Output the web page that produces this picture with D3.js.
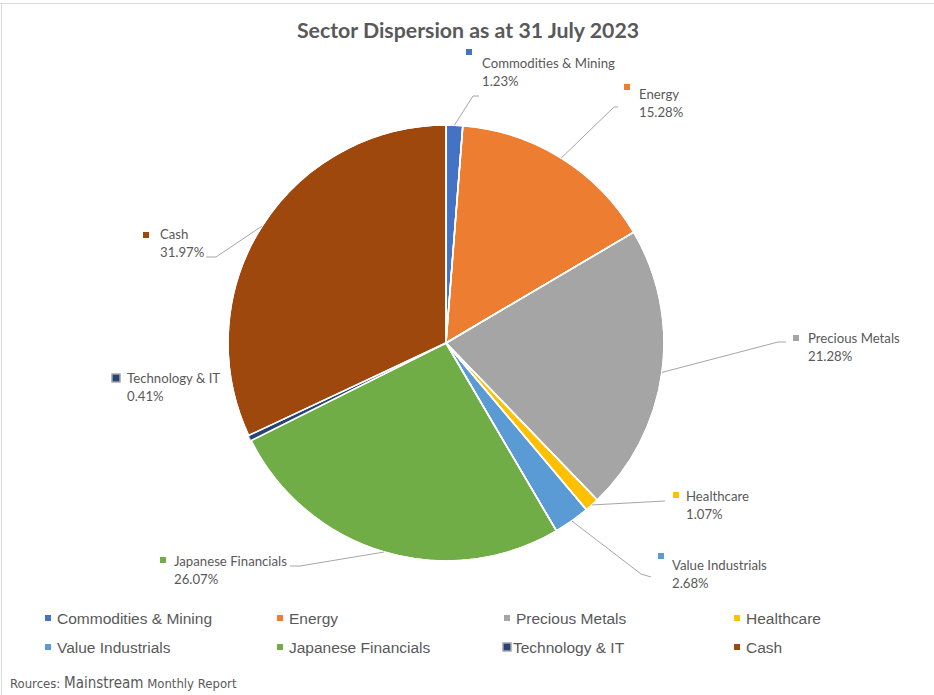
<!DOCTYPE html>
<html><head><meta charset="utf-8">
<script src="https://cdn.jsdelivr.net/npm/d3@7"></script>
<style>body{margin:0;background:#fff}svg{display:block}</style>
</head><body>
<script>
const categories = ["Commodities & Mining","Energy","Precious Metals","Healthcare","Value Industrials","Japanese Financials","Technology & IT","Cash"];
const values = [1.23,15.28,21.28,1.07,2.68,26.07,0.41,31.97];
const colors = ["#4472C4","#ED7D31","#A5A5A5","#FFC000","#5B9BD5","#70AD47","#264478","#9E480E"];
const title = "Sector Dispersion as at 31 July 2023";

const W=934,H=695, cx=446, cy=343, R=218;
const svg=d3.select("body").append("svg").attr("width",W).attr("height",H);
svg.append("rect").attr("width",W).attr("height",H).attr("fill","#fff");
svg.append("line").attr("x1",0).attr("x2",W).attr("y1",3.5).attr("y2",3.5).attr("stroke","#d9d9d9");
svg.append("line").attr("x1",1.5).attr("x2",1.5).attr("y1",3).attr("y2",H).attr("stroke","#d9d9d9");

svg.append("text").attr("x",468).attr("y",38).attr("text-anchor","middle")
  .attr("font-family","Lato, 'Open Sans', sans-serif").attr("font-weight","bold")
  .attr("font-size",21.3).attr("fill","#595959").text(title);

const data=categories.map((c,i)=>({name:c,value:values[i],color:colors[i]}));
const pie=d3.pie().value(d=>d.value).sort(null);
const arcs=pie(data);
const arc=d3.arc().innerRadius(0).outerRadius(R);
const g=svg.append("g").attr("transform",`translate(${cx},${cy})`);
g.selectAll("path").data(arcs).join("path").attr("d",arc)
  .attr("fill",d=>d.data.color)
  .attr("stroke",d=>d.data.name==="Technology & IT"?"#a5a5a5":"#fff")
  .attr("stroke-width",d=>d.data.name==="Technology & IT"?1:1.5);
g.selectAll("path.sep").data(arcs.filter(d=>d.data.name!=="Technology & IT")).join("path")
  .attr("d",arc).attr("fill","none").attr("stroke","#fff").attr("stroke-width",1.5);

const layout=[
  {mx:469,ty:68,tx:482,my:52,elbow:[[473,96],[479,96]]},
  {mx:627,ty:99,tx:639,my:87,elbow:[[614,107],[618,107]]},
  {mx:796,ty:343,tx:808,my:338,elbow:[[778,342],[786,342]]},
  {mx:676,ty:501,tx:686,my:495,elbow:[[665,501]]},
  {mx:661,ty:570,tx:672,my:556,elbow:[[641,574],[651,577]]},
  {mx:163,ty:566,tx:174,my:560,elbow:[[300,566],[290,566]]},
  {mx:116,ty:383,tx:127,my:378,elbow:null},
  {mx:146,ty:239,tx:160,my:235,elbow:[[216,257],[206,257]]}
];
const lab=d3.arc().innerRadius(R).outerRadius(R);
const fam="Lato, 'Open Sans', sans-serif";
arcs.forEach((a,i)=>{
  const L=layout[i];
  const p=lab.centroid(a);
  const start=[p[0]+cx,p[1]+cy];
  if(L.elbow){
    svg.append("path").attr("d",d3.line()([start,...L.elbow])).attr("fill","none").attr("stroke","#a6a6a6").attr("stroke-width",1);
  }
  const isTech=a.data.name==="Technology & IT";
  const ms=isTech?8:6;
  svg.append("rect").attr("x",L.mx-ms/2).attr("y",L.my-ms/2).attr("width",ms).attr("height",ms)
    .attr("fill",a.data.color).attr("stroke",isTech?"#a5a5a5":"none").attr("stroke-width",isTech?1.5:0);
  const t=svg.append("text").attr("font-family",fam).attr("font-size",13.2).attr("fill","#595959");
  t.append("tspan").attr("x",L.tx).attr("y",L.ty).text(a.data.name);
  t.append("tspan").attr("x",L.tx).attr("y",L.ty+18).text(a.data.value.toFixed(2)+"%");
});

const colX=[48,280,507,737], rowY=[618,647];
data.forEach((d,i)=>{
  const x=colX[i%4], y=rowY[Math.floor(i/4)];
  const isTech=d.name==="Technology & IT";
  const ms=isTech?8:6;
  svg.append("rect").attr("x",x-ms/2).attr("y",y-ms/2).attr("width",ms).attr("height",ms)
    .attr("fill",d.color).attr("stroke",isTech?"#a5a5a5":"none").attr("stroke-width",isTech?1.5:0);
  svg.append("text").attr("x",x+(isTech?6:9)).attr("y",y+5.5).attr("font-family","'Liberation Sans', Arial, sans-serif")
    .attr("font-size",15.5).attr("fill","#595959").text(d.name);
});

const f=svg.append("text").attr("x",10).attr("y",688).attr("font-family","'Liberation Sans Narrow', 'DejaVu Sans Condensed', sans-serif").attr("fill","#595959");
f.append("tspan").attr("font-size",13).text("Rources: ");
f.append("tspan").attr("font-size",15).text("Mainstream");
f.append("tspan").attr("font-size",13).text(" Monthly Report");
</script>
</body></html>
